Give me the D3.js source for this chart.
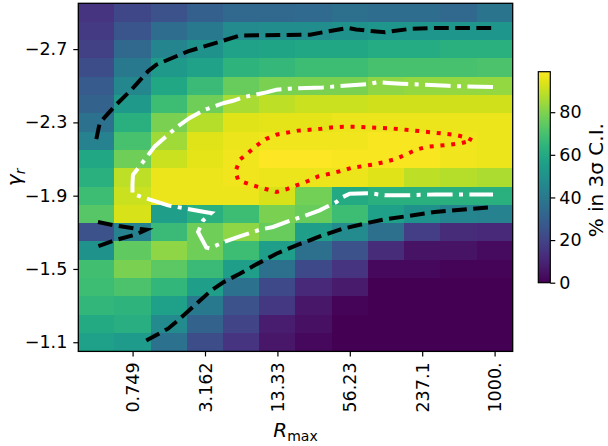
<!DOCTYPE html>
<html><head><meta charset="utf-8">
<script src="https://cdn.jsdelivr.net/npm/d3@7"></script>
<style>body{margin:0;background:#fff}svg{display:block}text{font-family:"DejaVu Sans",sans-serif;fill:#000}</style>
</head><body><svg id="c" width="608" height="446"></svg>
<script>
// ---- data ----
const rMax = [0.3652, 0.7499, 1.540, 3.162, 6.494, 13.34, 27.38, 56.23, 115.5, 237.1, 487.0, 1000];
const gammaR = [-2.9, -2.8, -2.7, -2.6, -2.5, -2.4, -2.3, -2.2, -2.1, -2.0, -1.9, -1.8, -1.7, -1.6, -1.5, -1.4, -1.3, -1.2, -1.1];
// % in 3 sigma C.I., one row per gammaR value, one column per rMax value
const pct = [
  [15, 21, 25, 30, 33, 33, 34, 36, 35, 35, 33, 38],
  [17, 26, 35, 40, 47, 48, 48, 50, 52, 52, 52, 52],
  [19, 33, 45, 50, 57, 58, 59, 59, 61, 61, 63, 63],
  [23, 40, 53, 57, 64, 66, 68, 68, 70, 70, 70, 71],
  [28, 46, 59, 67, 76, 79, 79, 79, 82, 83, 83, 83],
  [31, 53, 68, 77, 86, 89, 91, 91, 92, 92, 92, 92],
  [37, 63, 79, 88, 94, 95, 95, 96, 96, 96, 96, 96],
  [44, 70, 85, 94, 96, 97, 97, 97, 98, 98, 97, 96],
  [59, 77, 91, 95, 97, 99, 99, 98, 98, 98, 97, 96],
  [63, 89, 96, 96, 97, 96, 96, 96, 94, 89, 88, 87],
  [68, 91, 96, 96, 96, 93, 78, 60, 63, 63, 63, 63],
  [73, 93, 55, 63, 68, 79, 76, 68, 56, 50, 45, 44],
  [25, 44, 67, 77, 82, 76, 55, 47, 36, 18, 12, 11],
  [50, 75, 82, 77, 68, 55, 36, 25, 12, 5, 5, 3],
  [69, 79, 74, 67, 55, 36, 22, 15, 2, 2, 1, 1],
  [68, 71, 65, 55, 37, 22, 11, 7, 0, 0, 0, 0],
  [65, 64, 56, 40, 25, 16, 6, 1, 0, 0, 0, 0],
  [60, 62, 47, 31, 20, 8, 4, 0, 0, 0, 0, 0],
  [56, 54, 37, 23, 15, 6, 2, 0, 0, 0, 0, 0]
];
const vmax = 99;
const xTickValues = [0.7499, 3.162, 13.34, 56.23, 237.1, 1000];
const xTickLabels = ["0.749", "3.162", "13.33", "56.23", "237.1", "1000."];
const yTickValues = [-2.7, -2.3, -1.9, -1.5, -1.1];
const cbTickValues = [0, 20, 40, 60, 80];
// contour lines: points are [log10(Rmax), gamma_r]
const blackUpper = [[-0.438,-2.209],[-0.409,-2.297],[-0.280,-2.388],[-0.136,-2.478],[0.008,-2.579],[0.080,-2.615],[0.181,-2.642],[0.353,-2.688],[0.641,-2.743],[0.802,-2.774],[0.940,-2.775],[1.407,-2.779],[1.519,-2.792],[1.735,-2.815],[1.804,-2.807],[1.925,-2.799],[2.054,-2.792],[2.278,-2.811],[2.486,-2.815],[2.986,-2.815]];
const blackWedge = [[-0.424,-1.756],[-0.280,-1.738],[-0.093,-1.720],[-0.007,-1.714],[-0.093,-1.689],[-0.280,-1.656],[-0.424,-1.624]];
const blackLower = [[-0.007,-1.110],[0.181,-1.174],[0.267,-1.220],[0.411,-1.301],[0.554,-1.383],[0.655,-1.426],[0.800,-1.474],[0.943,-1.525],[1.116,-1.583],[1.288,-1.629],[1.404,-1.656],[1.490,-1.678],[1.691,-1.720],[1.916,-1.753],[2.051,-1.771],[2.253,-1.789],[2.483,-1.811],[2.656,-1.820],[2.986,-1.838]];
const whiteLine = [[2.986,-2.493],[2.684,-2.497],[2.598,-2.500],[2.281,-2.509],[2.195,-2.511],[2.080,-2.515],[1.994,-2.519],[1.907,-2.509],[1.519,-2.491],[1.231,-2.484],[1.116,-2.478],[1.029,-2.464],[0.828,-2.437],[0.742,-2.418],[0.664,-2.406],[0.498,-2.369],[0.368,-2.324],[0.267,-2.279],[0.181,-2.233],[0.066,-2.169],[-0.021,-2.096],[-0.122,-2.013],[-0.126,-1.958],[-0.126,-1.909],[0.094,-1.865],[0.181,-1.847],[0.498,-1.811],[0.554,-1.805],[0.483,-1.765],[0.440,-1.702],[0.511,-1.617],[0.541,-1.613],[0.664,-1.647],[0.800,-1.678],[0.972,-1.714],[1.087,-1.729],[1.260,-1.769],[1.346,-1.787],[1.490,-1.820],[1.547,-1.838],[1.634,-1.865],[1.691,-1.893],[1.749,-1.911],[1.916,-1.914],[2.051,-1.902],[2.224,-1.902],[2.483,-1.907],[2.986,-1.907]];
const redLoop = [[2.805,-2.202],[2.765,-2.216],[2.670,-2.231],[2.477,-2.244],[2.281,-2.257],[2.095,-2.268],[1.907,-2.273],[1.801,-2.276],[1.697,-2.276],[1.605,-2.273],[1.502,-2.265],[1.404,-2.260],[1.303,-2.255],[1.116,-2.233],[1.024,-2.209],[0.943,-2.173],[0.871,-2.133],[0.800,-2.096],[0.763,-2.032],[0.785,-1.987],[0.828,-1.975],[0.914,-1.956],[1.015,-1.938],[1.116,-1.920],[1.202,-1.935],[1.288,-1.956],[1.389,-1.980],[1.476,-2.005],[1.577,-2.020],[1.663,-2.033],[1.763,-2.051],[1.849,-2.060],[1.959,-2.071],[2.051,-2.084],[2.146,-2.100],[2.238,-2.126],[2.324,-2.151],[2.419,-2.167],[2.518,-2.173],[2.613,-2.178],[2.713,-2.187],[2.805,-2.202]];

// ---- layout ----
const svg = d3.select("#c");
const L = 78.3, R = 512.7, T = 3.3, B = 351.4;
const half = Math.log10(rMax[1] / rMax[0]) / 2;
const gStep = 0.1;
const x = d3.scaleLog()
  .domain([rMax[0] / Math.pow(10, half), rMax[rMax.length - 1] * Math.pow(10, half)])
  .range([L, R]);
const y = d3.scaleLinear()
  .domain([gammaR[0] - gStep / 2, gammaR[gammaR.length - 1] + gStep / 2])
  .range([T, B]);
const color = d3.scaleSequential(d3.interpolateViridis).domain([0, vmax]);

const cells = [];
pct.forEach((row, i) => row.forEach((v, j) => cells.push({g: gammaR[i], r: rMax[j], v})));
svg.append("g").selectAll("rect").data(cells).join("rect")
  .attr("x", d => x(d.r / Math.pow(10, half)))
  .attr("y", d => y(d.g - gStep / 2))
  .attr("width", d => x(d.r * Math.pow(10, half)) - x(d.r / Math.pow(10, half)) + 0.4)
  .attr("height", d => y(d.g + gStep / 2) - y(d.g - gStep / 2) + 0.4)
  .attr("fill", d => color(d.v))
  .attr("shape-rendering", "crispEdges");

const line = d3.line().x(d => x(Math.pow(10, d[0]))).y(d => y(d[1]));
const cg = svg.append("g").attr("fill", "none");
[blackUpper, blackWedge, blackLower].forEach(pts =>
  cg.append("path").attr("d", line(pts)).attr("stroke", "#000").attr("stroke-width", 4)
    .attr("stroke-dasharray", "14.8,6.4"));
cg.append("path").attr("d", line(whiteLine)).attr("stroke", "#fff").attr("stroke-width", 4)
  .attr("stroke-dasharray", "25.6,6.4,4,6.4");
cg.append("path").attr("d", line(redLoop)).attr("stroke", "#ff0000").attr("stroke-width", 4)
  .attr("stroke-dasharray", "4,6.8");

// frame
svg.append("rect").attr("x", L).attr("y", T).attr("width", R - L).attr("height", B - T)
  .attr("fill", "none").attr("stroke", "#000").attr("stroke-width", 1.3);

// axes
const fs = 17.5;
const xAxis = d3.axisBottom(x).tickValues(xTickValues).tickFormat((d, i) => xTickLabels[i]).tickSize(5).tickPadding(4);
const gx = svg.append("g").attr("transform", `translate(0,${B})`).call(xAxis);
gx.select(".domain").remove();
gx.selectAll(".tick line").attr("stroke-width", 1.2);
gx.selectAll(".tick text").attr("font-size", fs).attr("font-family", "DejaVu Sans")
  .attr("transform", "rotate(-90)").attr("text-anchor", "end")
  .attr("x", -11).attr("y", 0).attr("dy", "0.35em");

const yAxis = d3.axisLeft(y).tickValues(yTickValues).tickFormat(d => d.toFixed(1).replace("-", "\u2212")).tickSize(5).tickPadding(6);
const gy = svg.append("g").attr("transform", `translate(${L},0)`).call(yAxis);
gy.select(".domain").remove();
gy.selectAll(".tick line").attr("stroke-width", 1.2);
gy.selectAll(".tick text").attr("font-size", fs).attr("font-family", "DejaVu Sans");

// axis labels
const xl = svg.append("text").attr("x", (L + R) / 2).attr("y", 437).attr("text-anchor", "middle").attr("font-size", 20);
xl.append("tspan").attr("font-style", "italic").text("R");
xl.append("tspan").attr("font-size", 14).attr("dy", 4).text("max");

const yl = svg.append("text").attr("transform", `translate(21,${(T + B) / 2}) rotate(-90)`).attr("text-anchor", "middle").attr("font-size", 20);
yl.append("tspan").attr("font-style", "italic").text("γ");
yl.append("tspan").attr("font-style", "italic").attr("font-size", 14).attr("dy", 4).text("r");

// colorbar
const cbL = 538.3, cbW = 12, cbT = 71.7, cbB = 282.7;
const cy = d3.scaleLinear().domain([0, vmax]).range([cbB, cbT]);
const defs = svg.append("defs");
const grad = defs.append("linearGradient").attr("id", "vg").attr("x1", 0).attr("y1", 1).attr("x2", 0).attr("y2", 0);
d3.range(0, 1.0001, 0.05).forEach(t => grad.append("stop").attr("offset", t).attr("stop-color", d3.interpolateViridis(t)));
svg.append("rect").attr("x", cbL).attr("y", cbT).attr("width", cbW).attr("height", cbB - cbT).attr("fill", "url(#vg)")
  .attr("stroke", "#000").attr("stroke-width", 1.2);
const cbAxis = d3.axisRight(cy).tickValues(cbTickValues).tickSize(5).tickPadding(4);
const gc = svg.append("g").attr("transform", `translate(${cbL + cbW},0)`).call(cbAxis);
gc.select(".domain").remove();
gc.selectAll(".tick line").attr("stroke-width", 1.2);
gc.selectAll(".tick text").attr("font-size", fs).attr("font-family", "DejaVu Sans");
svg.append("text").attr("transform", `translate(603,${(cbT + cbB) / 2 + 3}) rotate(-90)`).attr("text-anchor", "middle")
  .attr("font-size", 20).text("% in 3σ C.I.");
</script></body></html>
